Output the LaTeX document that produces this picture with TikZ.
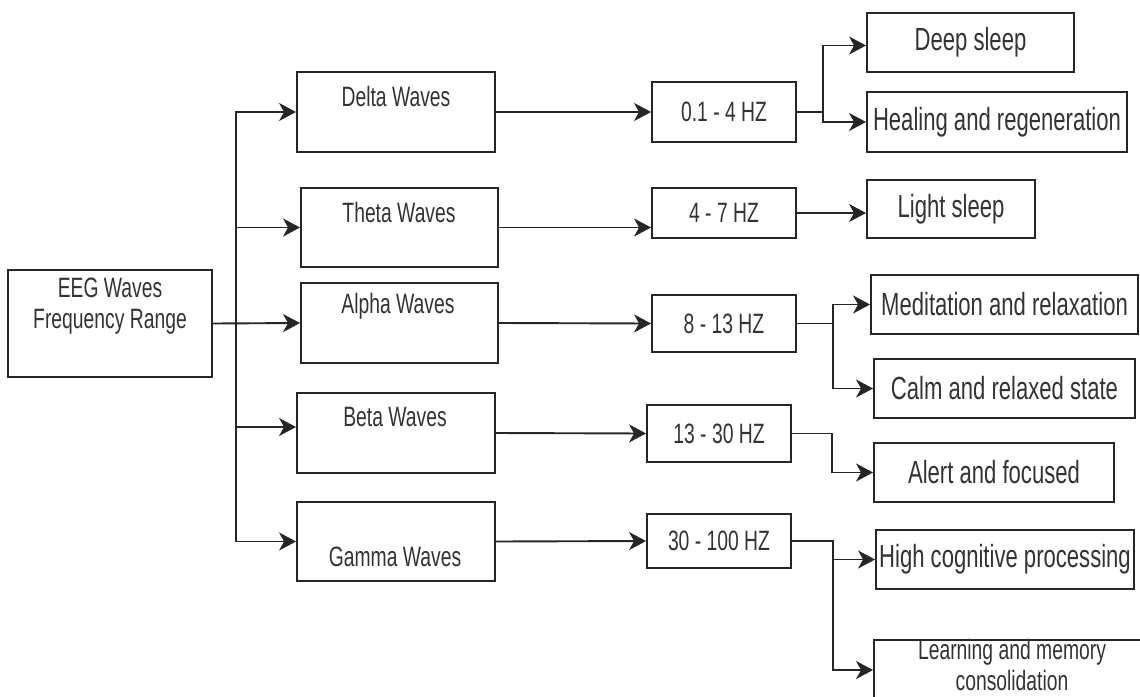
\documentclass[tikz,border=0pt]{standalone}
\usepackage{fontspec}
\setmainfont[FakeStretch=0.69]{Liberation Sans}
\usetikzlibrary{arrows.meta}

\begin{document}
\begin{tikzpicture}[x=1pt, y=-1pt,
    box/.style={draw=black!85, line width=1.9pt, inner sep=0pt, text=black!80, font=\fontsize{28}{32}\selectfont},
    outbox/.style={box, font=\fontsize{32}{36}\selectfont},
    txt/.style={inner sep=0pt, align=center, text=black!80, font=\fontsize{28}{31}\selectfont},
    link/.style={draw=black!85, line width=1.9pt},
    arr/.style={link, -{Stealth[length=17pt, width=18pt, inset=5pt]}}]
    \useasboundingbox (0,0) rectangle (1140,696);
    \clip (0,0) rectangle (1140,696);
    \node[box, minimum width=204pt, minimum height=107pt] (root) at (110,323.5) {};
    \node[txt] (rootlbl) at (110,306) {EEG Waves\\Frequency Range};
    \node[box, minimum width=198pt, minimum height=80pt] (delta) at (396,112) {};
    \node[box, minimum width=197pt, minimum height=79pt] (theta) at (399.5,227.5) {};
    \node[box, minimum width=197pt, minimum height=80pt] (alpha) at (399.5,323) {};
    \node[box, minimum width=198pt, minimum height=80pt] (beta) at (396,433) {};
    \node[box, minimum width=198pt, minimum height=79pt] (gamma) at (396,541.5) {};
    \node[txt] (deltalbl) at (396,96) {Delta Waves};
    \node[txt] (thetalbl) at (399,212) {Theta Waves};
    \node[txt] (alphalbl) at (398,306) {Alpha Waves};
    \node[txt] (betalbl) at (395,417) {Beta Waves};
    \node[txt] (gammalbl) at (395,557) {Gamma Waves};
    \node[box, minimum width=144pt, minimum height=60pt] (f1) at (724,112) {0.1 - 4 HZ};
    \node[box, minimum width=144pt, minimum height=50pt] (f2) at (724,213) {4 - 7 HZ};
    \node[box, minimum width=144pt, minimum height=57pt] (f3) at (724,323.5) {8 - 13 HZ};
    \node[box, minimum width=144pt, minimum height=57pt] (f4) at (719,433.5) {13 - 30 HZ};
    \node[box, minimum width=144pt, minimum height=54pt] (f5) at (719,541) {30 - 100 HZ};
    \node[outbox, minimum width=207pt, minimum height=59pt] (deep) at (970.5,42.5) {Deep sleep};
    \node[outbox, minimum width=260pt, minimum height=60pt] (heal) at (997,122) {Healing and regeneration};
    \node[outbox, minimum width=168pt, minimum height=58pt] (light) at (951,209) {Light sleep};
    \node[outbox, minimum width=267pt, minimum height=59pt] (med) at (1004.5,304.5) {Meditation and relaxation};
    \node[outbox, minimum width=261pt, minimum height=59pt] (calm) at (1004.5,388.5) {Calm and relaxed state};
    \node[outbox, minimum width=240pt, minimum height=59pt] (alert) at (994,472.5) {Alert and focused};
    \node[outbox, minimum width=258pt, minimum height=59pt] (high) at (1005,559.5) {High cognitive processing};
    \node[box, minimum width=286pt, minimum height=72pt] (learn) at (1017,676) {};
    \node[txt] (learnlbl) at (1012,665) {Learning and memory\\consolidation};
    \coordinate (bus) at (236,323.5);
    \coordinate (j1) at (823,112);
    \coordinate (j3) at (833,323.5);
    \coordinate (j4) at (832,433.5);
    \coordinate (j5) at (833,541);
    \draw[arr] (root.east) -- (bus) |- (delta.west);
    \draw[arr] (root.east) -- (bus) |- (theta.west);
    \draw[arr] (root.east) -- (alpha.west);
    \draw[arr] (root.east) -- (bus) |- ([yshift=6pt]beta.west);
    \draw[arr] (root.east) -- (bus) |- (gamma.west);
    \draw[arr] (delta.east) -- (f1.west);
    \draw[arr] (theta.east) -- (theta.east -| f2.west);
    \draw[arr] (alpha.east) -- (f3.west);
    \draw[arr] (beta.east) -- (f4.west);
    \draw[arr] (gamma.east) -- (f5.west);
    \draw[arr] (f1.east) -- (j1) |- ([yshift=-3pt]deep.west);
    \draw[arr] (f1.east) -- (j1) |- (heal.west);
    \draw[arr] (f2.east) -- (f2.east -| light.west);
    \draw[arr] (f3.east) -- (j3) |- (med.west);
    \draw[arr] (f3.east) -- (j3) |- (calm.west);
    \draw[arr] (f4.east) -- (j4) |- (alert.west);
    \draw[arr] (f5.east) -- (j5) |- (high.west);
    \draw[arr] (f5.east) -- (j5) |- ([yshift=6pt]learn.west);
\end{tikzpicture}
\end{document}
